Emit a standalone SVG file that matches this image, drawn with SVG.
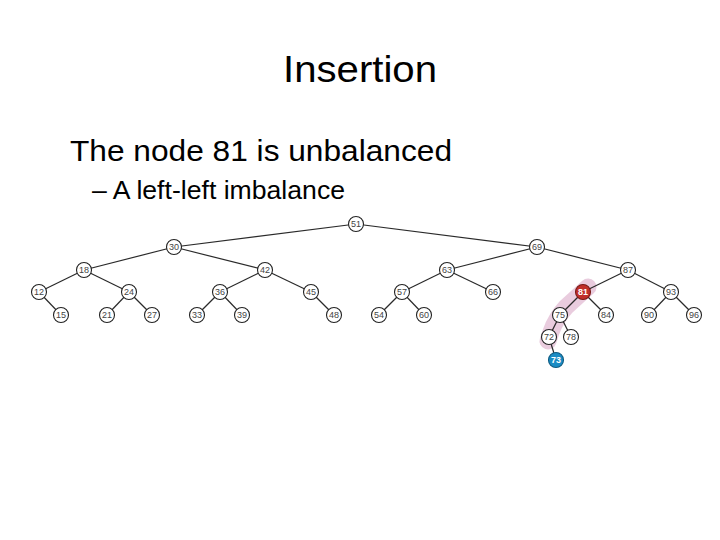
<svg xmlns="http://www.w3.org/2000/svg" width="720" height="540" viewBox="0 0 720 540">
<style>
.t{font-family:"Liberation Sans",Arial,sans-serif;fill:#000}
.e line{stroke:#2a2a2a;stroke-width:1.2}
.n circle{fill:#fff;stroke:#222;stroke-width:1.1}
.n text{font-family:"Liberation Sans",Arial,sans-serif;font-size:9px;fill:#444;text-anchor:middle;dominant-baseline:central}
.n.red circle{fill:#c0302a;stroke:#7a1a16}
.n.blue circle{fill:#1a8cc4;stroke:#0d5a80}
.n.red text,.n.blue text{fill:#fff;font-weight:bold}
</style>
<rect width="720" height="540" fill="#fff"/>
<text class="t" x="360" y="82" font-family="'Open Sans',sans-serif" font-size="37" text-anchor="middle" textLength="154" lengthAdjust="spacingAndGlyphs">Insertion</text>
<text class="t" x="70" y="161" font-size="30" textLength="382" lengthAdjust="spacingAndGlyphs">The node 81 is unbalanced</text>
<text class="t" x="92" y="199" font-size="25" textLength="253" lengthAdjust="spacingAndGlyphs">– A left-left imbalance</text>
<path d="M588,287 L566,307 Q556,318 551,332 L548,341" fill="none" stroke="#dfb6d0" stroke-opacity="0.7" stroke-width="17" stroke-linecap="round" stroke-linejoin="round"/>
<g id="connectors" class="e">
<line x1="356" y1="224" x2="174" y2="247"/>
<line x1="356" y1="224" x2="537" y2="247"/>
<line x1="174" y1="247" x2="84" y2="270"/>
<line x1="174" y1="247" x2="265" y2="270"/>
<line x1="537" y1="247" x2="447" y2="270"/>
<line x1="537" y1="247" x2="628" y2="270"/>
<line x1="84" y1="270" x2="39" y2="292"/>
<line x1="84" y1="270" x2="129" y2="292"/>
<line x1="265" y1="270" x2="220" y2="292"/>
<line x1="265" y1="270" x2="311" y2="292"/>
<line x1="447" y1="270" x2="402" y2="292"/>
<line x1="447" y1="270" x2="493" y2="292"/>
<line x1="628" y1="270" x2="583" y2="292"/>
<line x1="628" y1="270" x2="671" y2="292"/>
<line x1="39" y1="292" x2="61" y2="315"/>
<line x1="129" y1="292" x2="107" y2="315"/>
<line x1="129" y1="292" x2="152" y2="315"/>
<line x1="220" y1="292" x2="197" y2="315"/>
<line x1="220" y1="292" x2="242" y2="315"/>
<line x1="311" y1="292" x2="334" y2="315"/>
<line x1="402" y1="292" x2="379" y2="315"/>
<line x1="402" y1="292" x2="424" y2="315"/>
<line x1="583" y1="292" x2="560" y2="315"/>
<line x1="583" y1="292" x2="606" y2="315"/>
<line x1="671" y1="292" x2="649" y2="315"/>
<line x1="671" y1="292" x2="694" y2="315"/>
<line x1="560" y1="315" x2="549" y2="337"/>
<line x1="560" y1="315" x2="571" y2="337"/>
<line x1="549" y1="337" x2="556" y2="360"/>
</g>
<g id="n51" class="n"><circle cx="356" cy="224" r="7.5"/><text x="356" y="224">51</text></g>
<g id="n30" class="n"><circle cx="174" cy="247" r="7.5"/><text x="174" y="247">30</text></g>
<g id="n69" class="n"><circle cx="537" cy="247" r="7.5"/><text x="537" y="247">69</text></g>
<g id="n18" class="n"><circle cx="84" cy="270" r="7.5"/><text x="84" y="270">18</text></g>
<g id="n42" class="n"><circle cx="265" cy="270" r="7.5"/><text x="265" y="270">42</text></g>
<g id="n63" class="n"><circle cx="447" cy="270" r="7.5"/><text x="447" y="270">63</text></g>
<g id="n87" class="n"><circle cx="628" cy="270" r="7.5"/><text x="628" y="270">87</text></g>
<g id="n12" class="n"><circle cx="39" cy="292" r="7.5"/><text x="39" y="292">12</text></g>
<g id="n24" class="n"><circle cx="129" cy="292" r="7.5"/><text x="129" y="292">24</text></g>
<g id="n36" class="n"><circle cx="220" cy="292" r="7.5"/><text x="220" y="292">36</text></g>
<g id="n45" class="n"><circle cx="311" cy="292" r="7.5"/><text x="311" y="292">45</text></g>
<g id="n57" class="n"><circle cx="402" cy="292" r="7.5"/><text x="402" y="292">57</text></g>
<g id="n66" class="n"><circle cx="493" cy="292" r="7.5"/><text x="493" y="292">66</text></g>
<g id="n81" class="n red"><circle cx="583" cy="292" r="7.5"/><text x="583" y="292">81</text></g>
<g id="n93" class="n"><circle cx="671" cy="292" r="7.5"/><text x="671" y="292">93</text></g>
<g id="n15" class="n"><circle cx="61" cy="315" r="7.5"/><text x="61" y="315">15</text></g>
<g id="n21" class="n"><circle cx="107" cy="315" r="7.5"/><text x="107" y="315">21</text></g>
<g id="n27" class="n"><circle cx="152" cy="315" r="7.5"/><text x="152" y="315">27</text></g>
<g id="n33" class="n"><circle cx="197" cy="315" r="7.5"/><text x="197" y="315">33</text></g>
<g id="n39" class="n"><circle cx="242" cy="315" r="7.5"/><text x="242" y="315">39</text></g>
<g id="n48" class="n"><circle cx="334" cy="315" r="7.5"/><text x="334" y="315">48</text></g>
<g id="n54" class="n"><circle cx="379" cy="315" r="7.5"/><text x="379" y="315">54</text></g>
<g id="n60" class="n"><circle cx="424" cy="315" r="7.5"/><text x="424" y="315">60</text></g>
<g id="n75" class="n"><circle cx="560" cy="315" r="7.5"/><text x="560" y="315">75</text></g>
<g id="n84" class="n"><circle cx="606" cy="315" r="7.5"/><text x="606" y="315">84</text></g>
<g id="n90" class="n"><circle cx="649" cy="315" r="7.5"/><text x="649" y="315">90</text></g>
<g id="n96" class="n"><circle cx="694" cy="315" r="7.5"/><text x="694" y="315">96</text></g>
<g id="n72" class="n"><circle cx="549" cy="337" r="7.5"/><text x="549" y="337">72</text></g>
<g id="n78" class="n"><circle cx="571" cy="337" r="7.5"/><text x="571" y="337">78</text></g>
<g id="n73" class="n blue"><circle cx="556" cy="360" r="7.5"/><text x="556" y="360">73</text></g>
</svg>
